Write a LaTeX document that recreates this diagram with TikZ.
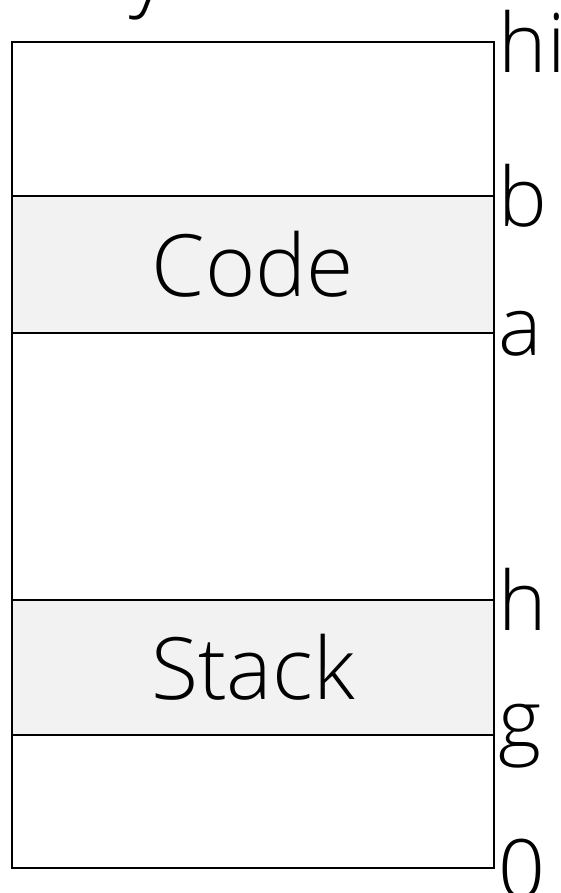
\documentclass[tikz,border=0pt]{standalone}
\usepackage{fontspec}
\setmainfont{Open Sans Light}
\definecolor{bandgray}{HTML}{F2F2F2}
\tikzset{
  big/.style={font=\fontsize{86}{100}\selectfont, inner sep=0pt},
  frame/.style={draw=black, line width=1.5pt, minimum width=482pt, inner sep=0pt},
  band/.style={frame, fill=bandgray, font=\fontsize{86}{100}\selectfont},
  addr/.style={font=\fontsize{82}{96}\selectfont, inner sep=0pt, anchor=west},
}
\begin{document}
\begin{tikzpicture}[x=1pt,y=-1pt]
\clip (0,0) rectangle (560,893);
\node[frame, minimum height=826pt] (mem) at (253,455) {};
\node[band, minimum height=137pt] (code) at (253,264.5) {Code};
\node[band, minimum height=135pt] (stack) at (253,667.5) {Stack};
\node[big, anchor=base west] (title) at (28,-0.5) {Physical};
\node[addr] (lhi) at ([xshift=4pt]mem.north east) {hi};
\node[addr] (lb) at ([xshift=4pt]code.north east) {b};
\node[addr] (la) at ([xshift=4pt]code.south east) {a};
\node[addr] (lh) at ([xshift=4pt]stack.north east) {h};
\node[addr] (lg) at ([xshift=4pt]stack.south east) {g};
\node[addr] (l0) at ([xshift=4pt]mem.south east) {0};
\end{tikzpicture}
\end{document}
